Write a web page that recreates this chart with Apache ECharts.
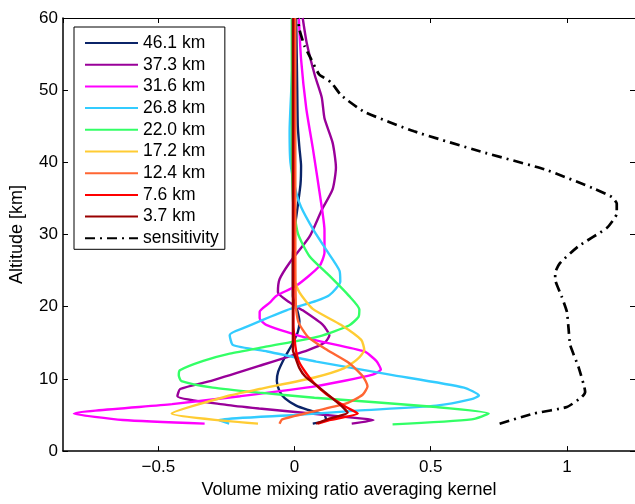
<!DOCTYPE html>
<html>
<head>
<meta charset="utf-8">
<script src="https://cdn.jsdelivr.net/npm/echarts@6/dist/echarts.min.js"></script>
<style>
html,body{margin:0;padding:0;background:#fff;}
#c{width:635px;height:504px;}
</style>
</head>
<body>
<div id="c"></div>
<script>
// [kernel value, altitude km]
var k461 = [[0.067,3.8],[0.116,4.3],[0.11,5.0],[0.05,5.7],[0.006,6.3],[-0.035,7.3],[-0.055,8.3],[-0.065,9.7],[-0.06,11],[-0.037,12.9],[-0.01,14.7],[0.012,16.5],[0.018,18],[0.01,19.5],[-0.006,21.5],[-0.006,26],[0,30.6],[0.012,34],[0.022,37],[0.024,39.5],[0.018,42],[0.012,45],[0.01,50],[0.008,55],[0.006,60]];
var k373 = [[0.21,3.8],[0.29,4.3],[0.25,4.5],[-0.13,5.9],[-0.25,6.4],[-0.43,7.6],[-0.42,8.6],[-0.3,9.8],[-0.13,11.8],[0.05,14.0],[0.11,15.0],[0.128,16.0],[0.104,17.5],[0.03,19.5],[-0.018,20.6],[-0.061,22],[-0.055,23.8],[-0.018,26.1],[0.055,29.7],[0.1,33.4],[0.14,36.3],[0.152,39.3],[0.14,42.7],[0.11,46.1],[0.1,49],[0.075,52],[0.045,56.5],[0.03,60]];
var k316 = [[-0.33,3.8],[-0.63,4.3],[-0.81,5.2],[-0.45,6.5],[-0.2,7.6],[0.08,9.0],[0.287,10.6],[0.317,11.3],[0.30,12.5],[0.256,13.8],[0.073,15.4],[-0.104,17.5],[-0.128,18.4],[-0.128,19.3],[-0.09,20.6],[-0.067,21.5],[0.006,22.9],[0.091,25.6],[0.11,27.5],[0.11,30.6],[0.098,34.3],[0.067,42],[0.043,47.5],[0.024,54.3],[0.016,60]];
var k268 = [[-0.24,3.8],[-0.28,4.3],[0.0,5.0],[0.23,5.6],[0.52,6.3],[0.65,7.2],[0.677,7.7],[0.622,8.8],[0.35,10.6],[0.08,12.4],[-0.1,13.8],[-0.226,14.7],[-0.238,16.1],[-0.177,17.2],[-0.03,19.5],[0.08,20.8],[0.128,21.6],[0.168,23.5],[0.165,25],[0.116,27.9],[0.07,30.6],[0.024,33.8],[0.005,36],[-0.015,40],[-0.018,44.3],[-0.012,50],[-0.006,55],[-0.005,60]];
var k220 = [[0.36,3.7],[0.65,4.4],[0.713,5.2],[0.52,6.1],[0.073,7.4],[-0.128,8.1],[-0.3,8.8],[-0.415,9.7],[-0.425,10.5],[-0.421,11.2],[-0.335,12.5],[-0.238,13.5],[-0.1,14.5],[0.091,15.9],[0.2,17.4],[0.235,18.6],[0.238,19.6],[0.2,21.5],[0.128,24.3],[0.055,27],[0.012,30.2],[-0.006,35],[-0.01,45],[-0.01,60]];
var k172 = [[-0.134,3.8],[-0.451,5.2],[-0.238,7.7],[-0.128,8.6],[0.073,10.2],[0.183,11.5],[0.23,12.7],[0.256,14.0],[0.245,15.4],[0.17,17.5],[0.067,19.7],[0.018,22],[0,23.8],[-0.002,30],[-0.002,60]];
var k124 = [[-0.055,3.8],[-0.045,4.4],[0.07,5.5],[0.19,6.6],[0.25,7.8],[0.268,9.0],[0.25,10.4],[0.2,12.2],[0.12,14.0],[0.05,15.8],[0.015,17.8],[0.005,20],[0.003,30],[0.003,60]];
var k076 = [[0.085,3.8],[0.128,4.3],[0.232,5.2],[0.189,6.1],[0.116,7.9],[0.07,9.5],[0.037,11.1],[0.015,12.5],[0.006,13.8],[0,15.5],[-0.004,17.5],[-0.004,30],[-0.004,60]];
var k037 = [[0.079,3.8],[0.128,4.5],[0.195,5.3],[0.177,6.1],[0.091,8.8],[0.04,10.3],[0.018,11.5],[0.003,13],[-0.006,14],[-0.006,20],[-0.006,60]];
var sensitivity = [[0.753,3.8],[0.878,5.2],[1.0,6.1],[1.055,7.5],[1.067,8.2],[1.043,11.6],[1.012,14.7],[1.006,17],[1.0,19.3],[0.98,21.5],[0.957,23.8],[0.957,24.7],[0.976,26.1],[1.043,28.4],[1.146,30.9],[1.183,32.9],[1.183,34.3],[1.165,35.2],[1.104,36.3],[0.921,39],[0.683,41.5],[0.439,44.3],[0.256,47],[0.171,49.3],[0.134,51.1],[0.09,52.2],[0.061,54.3],[0.037,56.1],[0.018,58.4],[0.012,60]];

var names = ['46.1 km','37.3 km','31.6 km','26.8 km','22.0 km','17.2 km','12.4 km','7.6 km','3.7 km','sensitivity'];
var colors = ['#0b2468','#990099','#ff00ff','#33ccff','#33ff66','#ffcc33','#ff6633','#ff0000','#990000','#000000'];
var datasets = [k461,k373,k316,k268,k220,k172,k124,k076,k037,sensitivity];

var xTicks = [-0.5, 0, 0.5, 1];
var yTicks = [0,10,20,30,40,50,60];

var FONT = 'Liberation Sans, Arial, Helvetica, sans-serif';

function fmtX(v){
  for (var i=0;i<xTicks.length;i++){ if (Math.abs(v-xTicks[i])<1e-9) return String(xTicks[i]).replace('-','\u2212'); }
  return '';
}

var series = datasets.map(function(d,i){
  var isSens = (i === datasets.length-1);
  return {
    name: names[i], type: 'line', data: d, showSymbol: false, symbol: 'none',
    smooth: isSens ? 0.15 : 0.2,
    lineStyle: { color: colors[i], width: isSens ? 2.7 : 2.4, type: isSens ? [10,5,2,5] : 'solid', cap: 'butt' },
    itemStyle: { color: colors[i] },
    animation: false, silent: true
  };
});

var chart = echarts.init(document.getElementById('c'));
chart.setOption({
  backgroundColor: '#ffffff',
  animation: false,
  grid: { left: 62, top: 18, width: 577, height: 439, containLabel: false },
  legend: {
    orient: 'vertical', left: 74, top: 27,
    data: names,
    itemWidth: 53, itemHeight: 17, itemGap: 3.7,
    padding: [7, 6, 2, 10],
    itemStyle: { opacity: 0, borderWidth: 0 },
    backgroundColor: '#ffffff', borderColor: '#000', borderWidth: 1,
    textStyle: { fontFamily: FONT, fontSize: 17.5, color: '#000', lineHeight: 17 },
    selectedMode: false
  },
  xAxis: [{
    type: 'value', min: -0.85, max: 1.25, splitNumber: 4, position: 'bottom',
    name: 'Volume mixing ratio averaging kernel', nameLocation: 'middle', nameGap: 27,
    nameTextStyle: { fontFamily: FONT, fontSize: 18, color: '#000' },
    axisLine: { show: true, onZero: false, lineStyle: { color: '#000', width: 1.5 } },
    axisTick: { show: true, inside: true, length: 5, lineStyle: { color: '#000' } },
    axisLabel: { formatter: fmtX, showMinLabel: false, showMaxLabel: false, margin: 8, fontFamily: FONT, fontSize: 17, color: '#000' },
    splitLine: { show: false }
  },{
    type: 'value', min: -0.85, max: 1.25, splitNumber: 4, position: 'top',
    axisLine: { show: true, onZero: false, lineStyle: { color: '#000', width: 1 } },
    axisTick: { show: true, inside: true, length: 5, lineStyle: { color: '#000' } },
    axisLabel: { show: false }, splitLine: { show: false }
  }],
  yAxis: [{
    type: 'value', min: 0, max: 60, interval: 10, position: 'left',
    name: 'Altitude [km]', nameLocation: 'middle', nameGap: 37, nameRotate: 90,
    nameTextStyle: { fontFamily: FONT, fontSize: 18, color: '#000' },
    axisLine: { show: true, onZero: false, lineStyle: { color: '#000', width: 1.5 } },
    axisTick: { show: true, inside: true, length: 5, lineStyle: { color: '#000' } },
    axisLabel: { margin: 5, fontFamily: FONT, fontSize: 17, color: '#000' },
    splitLine: { show: false }
  },{
    type: 'value', min: 0, max: 60, interval: 10, position: 'right',
    axisLine: { show: true, onZero: false, lineStyle: { color: '#000', width: 1 } },
    axisTick: { show: true, inside: true, length: 5, lineStyle: { color: '#000' } },
    axisLabel: { show: false }, splitLine: { show: false }
  }],
  series: series
});
</script>
</body>
</html>
